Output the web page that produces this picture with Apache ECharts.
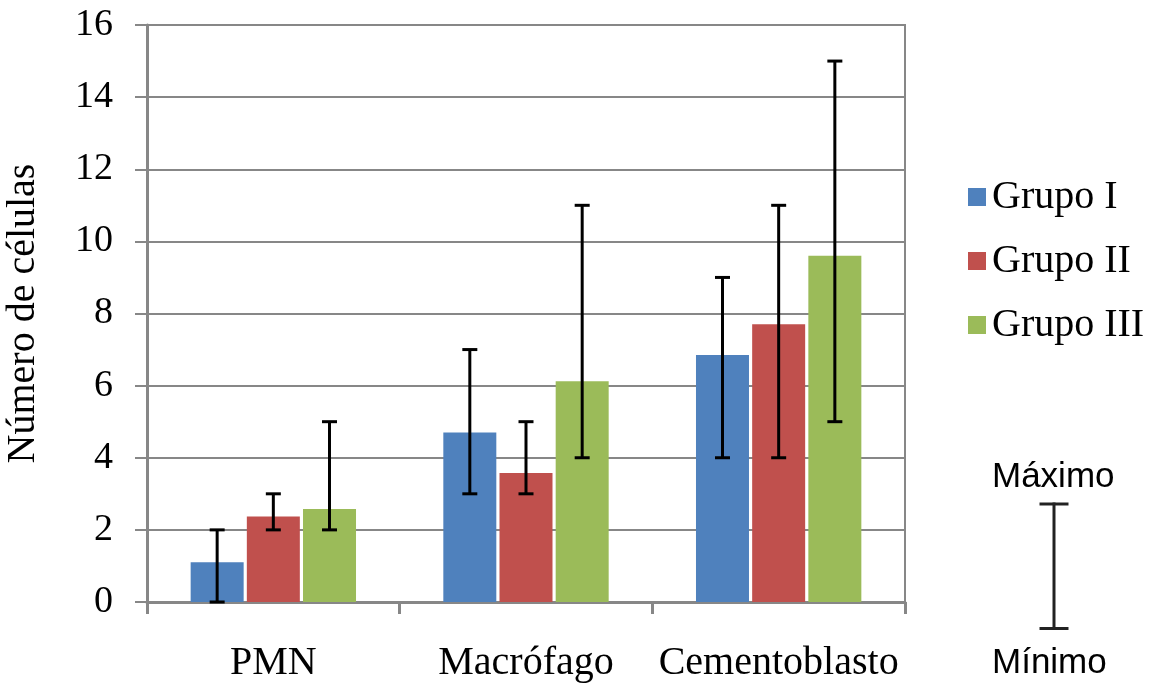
<!DOCTYPE html>
<html>
<head>
<meta charset="utf-8">
<script src="https://cdn.jsdelivr.net/npm/echarts@6/dist/echarts.min.js"></script>
<style>
  html, body { margin: 0; padding: 0; background: #fff; }
  #chart { width: 1152px; height: 683px; }
</style>
</head>
<body>
<div id="chart"></div>
<script>
// Cell counts per type, mean value and min/max range for each group
const categories = ['PMN', 'Macrófago', 'Cementoblasto'];
const seriesNames = ['Grupo I', 'Grupo II', 'Grupo III'];
const grupoI   = [1.1, 4.7, 6.85];
const grupoII  = [2.37, 3.58, 7.7];
const grupoIII = [2.58, 6.12, 9.6];
const minI   = [0, 3, 4];
const maxI   = [2, 7, 9];
const minII  = [2, 3, 4];
const maxII  = [3, 5, 11];
const minIII = [2, 4, 5];
const maxIII = [5, 11, 15];
const yTicks = [0, 2, 4, 6, 8, 10, 12, 14, 16];

const colors = ['#4F81BD', '#C0504D', '#9BBB59'];
const serif = '"Liberation Serif", "Times New Roman", serif';
const sans = '"Liberation Sans", Arial, sans-serif';
const gridGray = '#878787';

const BAR_W = 53;
const BAR_GAP = 0.06;

const values = [grupoI, grupoII, grupoIII];
const mins = [minI, minII, minIII];
const maxs = [maxI, maxII, maxIII];

const chart = echarts.init(document.getElementById('chart'));

const barSeries = seriesNames.map((name, g) => ({
  name: name,
  type: 'bar',
  data: values[g],
  barWidth: BAR_W,
  barGap: (BAR_GAP * 100) + '%',
  itemStyle: { color: colors[g] },
  z: 2
}));

// Whisker data: [category index, group index, min, max]
const whiskers = [];
for (let g = 0; g < 3; g++) {
  for (let c = 0; c < categories.length; c++) {
    whiskers.push([c, g, mins[g][c], maxs[g][c]]);
  }
}

function renderWhisker(params, api) {
  const c = api.value(0);
  const g = api.value(1);
  const lo = api.coord([c, api.value(2)]);
  const hi = api.coord([c, api.value(3)]);
  const offset = (g - 1) * BAR_W * (1 + BAR_GAP);
  const x = lo[0] + offset;
  const cap = 7.5;
  const style = { stroke: '#000', lineWidth: 3 };
  return {
    type: 'group',
    children: [
      { type: 'line', shape: { x1: x, y1: lo[1], x2: x, y2: hi[1] }, style: style },
      { type: 'line', shape: { x1: x - cap, y1: hi[1], x2: x + cap, y2: hi[1] }, style: style },
      { type: 'line', shape: { x1: x - cap, y1: lo[1], x2: x + cap, y2: lo[1] }, style: style }
    ]
  };
}

chart.setOption({
  animation: false,
  backgroundColor: '#fff',
  grid: {
    left: 147, right: 247, top: 25, bottom: 81,
    outerBoundsMode: 'none',
    containLabel: false,
    show: true, borderColor: gridGray, borderWidth: 2, backgroundColor: 'transparent'
  },
  legend: {
    data: seriesNames,
    orient: 'vertical',
    left: 963,
    top: 172,
    icon: 'rect',
    itemWidth: 18,
    itemHeight: 18,
    itemGap: 24,
    textStyle: { fontFamily: serif, fontSize: 40, color: '#000', padding: [0, 0, 0, 1] }
  },
  xAxis: {
    type: 'category',
    data: categories,
    axisLine: { lineStyle: { color: gridGray, width: 3 } },
    axisTick: { show: true, length: 12, lineStyle: { color: gridGray, width: 3 } },
    axisLabel: { interval: 0, fontFamily: serif, fontSize: 40, color: '#000', margin: 41 }
  },
  yAxis: {
    type: 'value',
    min: yTicks[0],
    max: yTicks[yTicks.length - 1],
    interval: 2,
    name: 'Número de células',
    nameLocation: 'middle',
    nameGap: 104,
    nameTextStyle: { fontFamily: serif, fontSize: 40, color: '#000' },
    axisLine: { show: true, lineStyle: { color: gridGray, width: 3 } },
    axisTick: { show: true, length: 12, lineStyle: { color: gridGray, width: 2 } },
    axisLabel: { fontFamily: serif, fontSize: 38, color: '#000', margin: 34 },
    splitLine: { lineStyle: { color: gridGray, width: 2 } }
  },
  series: barSeries.concat([{
    type: 'custom',
    name: 'Rango',
    data: whiskers,
    renderItem: renderWhisker,
    encode: { x: 0, y: [2, 3] },
    z: 5
  }]),
  graphic: [
    { type: 'text', left: 992, top: 460,
      style: { text: 'Máximo', font: '35px ' + sans, fill: '#000' } },
    { type: 'text', left: 992, top: 646,
      style: { text: 'Mínimo', font: '35px ' + sans, fill: '#000' } },
    { type: 'group', left: 1037, top: 500, children: [
      { type: 'line', shape: { x1: 14.5, y1: 0, x2: 14.5, y2: 126 }, style: { stroke: '#222', lineWidth: 3 } },
      { type: 'line', shape: { x1: 0, y1: 1.5, x2: 29, y2: 1.5 }, style: { stroke: '#222', lineWidth: 3 } },
      { type: 'line', shape: { x1: 0, y1: 126, x2: 29, y2: 126 }, style: { stroke: '#222', lineWidth: 3 } }
    ] }
  ]
});
</script>
</body>
</html>
